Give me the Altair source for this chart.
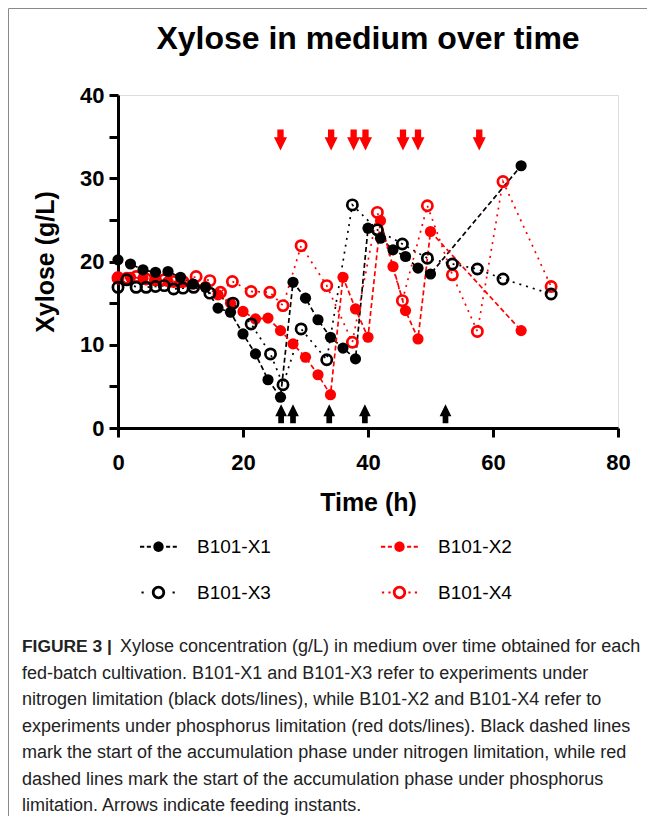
import altair as alt
import pandas as pd

FONT = "Liberation Sans"

series_names = ["B101-X1", "B101-X2", "B101-X3", "B101-X4"]
series_colors = ["#000000", "#ff0000", "#000000", "#ff0000"]

x1_time = [0, 2, 4, 6, 8, 10, 12, 14, 16, 18, 20, 22, 24, 26, 28, 30, 32, 34, 36, 38, 40, 42, 44, 46, 48, 50, 64.5]
x1_xylose = [20.2, 19.7, 19.0, 18.7, 18.8, 18.1, 17.3, 16.9, 14.4, 13.9, 11.3, 8.9, 5.8, 3.7, 17.5, 15.6, 13.0, 10.9, 9.6, 8.3, 24.0, 22.8, 21.4, 20.6, 19.2, 18.5, 31.5]

x2_time = [0, 2, 4, 6, 8, 10, 12, 14, 16, 18, 20, 22, 24, 26, 28, 30, 32, 34, 36, 38, 40, 42, 44, 46, 48, 50, 64.5]
x2_xylose = [18.2, 18.1, 18.0, 17.8, 17.6, 17.5, 17.3, 17.0, 16.0, 15.0, 14.0, 13.1, 13.2, 11.7, 10.1, 8.5, 6.4, 4.0, 18.1, 14.3, 10.9, 24.9, 19.4, 14.1, 10.7, 23.6, 11.7]

x3_time = [0, 1.4, 2.9, 4.5, 6, 7.4, 8.9, 10.4, 12.1, 14.7, 18.4, 21.3, 24.4, 26.4, 29.3, 33.4, 37.5, 41.5, 45.5, 49.5, 53.5, 57.5, 61.6, 69.3]
x3_xylose = [16.9, 17.8, 16.9, 16.9, 17.0, 17.1, 16.7, 16.8, 16.9, 16.2, 15.0, 12.5, 8.9, 5.2, 11.9, 8.2, 26.8, 23.8, 22.1, 20.4, 19.7, 19.1, 17.9, 16.1]

x4_time = [0, 1.4, 2.9, 4.5, 6, 7.4, 8.9, 10.4, 12.5, 14.7, 16.4, 18.3, 21.3, 24.3, 26.4, 29.3, 33.4, 37.5, 41.5, 45.5, 49.5, 53.5, 57.5, 61.6, 69.3]
x4_xylose = [18.0, 18.0, 18.2, 17.9, 17.8, 17.8, 17.6, 17.6, 18.2, 17.7, 16.3, 17.6, 16.4, 16.3, 14.7, 21.9, 17.1, 10.3, 25.9, 15.3, 26.7, 18.4, 11.6, 29.6, 17.0]

red_arrow_time = [26.0, 34.1, 37.7, 39.6, 45.6, 48.0, 57.8]
black_arrow_time = [26.1, 28.0, 33.8, 39.5, 52.4]

title_text = "Xylose in medium over time"
x_title = "Time (h)"
y_title = "Xylose (g/L)"
caption_bold = "FIGURE 3 |"
caption_lines = [
    "Xylose concentration (g/L) in medium over time obtained for each",
    "fed-batch cultivation. B101-X1 and B101-X3 refer to experiments under",
    "nitrogen limitation (black dots/lines), while B101-X2 and B101-X4 refer to",
    "experiments under phosphorus limitation (red dots/lines). Black dashed lines",
    "mark the start of the accumulation phase under nitrogen limitation, while red",
    "dashed lines mark the start of the accumulation phase under phosphorus",
    "limitation. Arrows indicate feeding instants.",
]

rows = []
for name, ts, vs in zip(series_names, [x1_time, x2_time, x3_time, x4_time],
                        [x1_xylose, x2_xylose, x3_xylose, x4_xylose]):
    for i, (t, v) in enumerate(zip(ts, vs)):
        rows.append({"series": name, "time": t, "xylose": v, "order": i})
df = pd.DataFrame(rows)

red_arrows = pd.DataFrame({"time": red_arrow_time})
black_arrows = pd.DataFrame({"time": black_arrow_time})

# ---- shapes -----------------------------------------------------------
def rect(x0, x1, h):
    return f"M{x0},{-h}L{x1},{-h}L{x1},{h}L{x0},{h}Z"

def disk(r):
    return f"M{r},0A{r},{r} 0 1,1 {-r},0A{r},{r} 0 1,1 {r},0Z"

def ring(ro, ri):
    return (f"M{ro},0A{ro},{ro} 0 1,1 {-ro},0A{ro},{ro} 0 1,1 {ro},0Z"
            f"M{ri},0A{ri},{ri} 0 1,0 {-ri},0A{ri},{ri} 0 1,0 {ri},0Z")

dashes = (rect(-1, -0.77, 0.05) + rect(-0.63, -0.41, 0.05)
          + rect(0.41, 0.63, 0.05) + rect(0.77, 0.99, 0.05))
dots_a = rect(-0.92, -0.8, 0.06) + rect(0.76, 0.88, 0.06)
dots_b = (rect(-0.95, -0.83, 0.06) + rect(-0.6, -0.48, 0.06)
          + rect(0.48, 0.6, 0.06) + rect(0.83, 0.95, 0.06))
legend_paths = [
    dashes + disk(0.28),
    dashes + disk(0.28),
    dots_a + ring(0.36, 0.21),
    dots_b + ring(0.36, 0.21),
]
arrow_down = "M-0.3,-1L0.3,-1L0.3,-0.25L0.62,-0.25L0,1L-0.62,-0.25L-0.3,-0.25Z"
arrow_up = "M-0.3,1L0.3,1L0.3,0.25L0.62,0.25L0,-1L-0.62,0.25L-0.3,0.25Z"

# ---- scales / encodings ----------------------------------------------
cscale = alt.Scale(domain=series_names, range=series_colors)
dscale = alt.Scale(domain=series_names, range=[[5, 3], [5, 3], [2, 5], [2, 5]])

X = alt.X(
    "time:Q",
    scale=alt.Scale(domain=[0, 80], nice=False),
    axis=alt.Axis(values=[0, 20, 40, 60, 80], title=x_title, grid=False,
                  labelFlush=False,
                  domainColor="black", domainWidth=3, tickColor="black",
                  tickWidth=3, tickSize=9, labelFont=FONT, labelFontSize=22,
                  labelFontWeight="bold", labelColor="black", labelPadding=15,
                  titleFont=FONT, titleFontSize=25, titleFontWeight="bold",
                  titleColor="black", titlePadding=17),
)
Y = alt.Y(
    "xylose:Q",
    scale=alt.Scale(domain=[0, 40], nice=False),
    axis=alt.Axis(values=[0, 5, 10, 15, 20, 25, 30, 35, 40],
                  labelExpr="datum.value % 10 == 0 ? datum.label : ''",
                  labelFlush=False,
                  title=y_title, grid=False,
                  domainColor="black", domainWidth=3, tickColor="black",
                  tickWidth=3, tickSize=9, labelFont=FONT, labelFontSize=22,
                  labelFontWeight="bold", labelColor="black", labelPadding=5,
                  titleFont=FONT, titleFontSize=25, titleFontWeight="bold",
                  titleColor="black", titlePadding=21),
)

base = alt.Chart(df)

lines = base.mark_line(strokeWidth=1.7).encode(
    x=X, y=Y,
    color=alt.Color("series:N", scale=cscale, legend=None),
    strokeDash=alt.StrokeDash("series:N", scale=dscale, legend=None),
    order="order:Q",
)

def pts(name, filled):
    c = series_colors[series_names.index(name)]
    if filled:
        m = alt.Chart(df).mark_point(filled=True, size=125, opacity=1, shape="circle", color=c)
    else:
        m = alt.Chart(df).mark_point(filled=False, size=105, strokeWidth=2.7, opacity=1,
                                     shape="circle", color=c)
    return m.transform_filter(alt.datum.series == name).encode(x=X, y=Y)

point_layers = [pts("B101-X2", True), pts("B101-X4", False),
                pts("B101-X1", True), pts("B101-X3", False)]

leg = alt.Legend(
    orient="none", legendX=22, legendY=433, columns=2, direction="horizontal",
    title=None,
    labelFont=FONT, labelFontSize=19, labelColor="black", symbolSize=1369,
    labelOffset=20, columnPadding=110, rowPadding=17, symbolStrokeWidth=0,
    symbolOpacity=1,
)
legend_layer = alt.Chart(df).transform_filter("false").mark_point(
    filled=True, opacity=1
).encode(
    x=X, y=Y,
    color=alt.Color("series:N", scale=cscale, legend=leg),
    shape=alt.Shape("series:N", scale=alt.Scale(domain=series_names, range=legend_paths),
                    legend=leg),
)

red_arrow_layer = alt.Chart(red_arrows).mark_point(
    shape=arrow_down, filled=True, color="#ff0000", size=441, opacity=1
).encode(x=X, y=alt.YDatum(34.6))

black_arrow_layer = alt.Chart(black_arrows).mark_point(
    shape=arrow_up, filled=True, color="#000000", size=361, opacity=1
).encode(x=X, y=alt.YDatum(1.7))

one = alt.Data(values=[{}])
frame = alt.Chart(one).mark_rect(filled=False, stroke="#8a8a8a", strokeWidth=1).encode(
    x=alt.value(-109.5), x2=alt.value(700), y=alt.value(-86.5), y2=alt.value(900)
)

CAP_SIZE = 18.0
caption_layers = [
    alt.Chart(one).mark_text(align="left", baseline="middle", font=FONT, fontSize=17.4,
                             fontWeight="bold", color="#222222").encode(
        x=alt.value(-96), y=alt.value(552), text=alt.value(caption_bold))
]
for i, line in enumerate(caption_lines):
    caption_layers.append(
        alt.Chart(one).mark_text(align="left", baseline="middle", font=FONT, fontSize=CAP_SIZE,
                                 color="#222222").encode(
            x=alt.value(2 if i == 0 else -96), y=alt.value(552 + i * 26.5),
            text=alt.value(line))
    )

chart = alt.layer(
    frame, lines, *point_layers, red_arrow_layer, black_arrow_layer, legend_layer,
    *caption_layers,
).resolve_scale(
    color="independent", shape="independent", strokeDash="independent"
).properties(
    width=500, height=333,
    title=alt.Title(title_text, font=FONT, fontSize=32, fontWeight="bold",
                    color="black", offset=-73, anchor="middle", baseline="alphabetic"),
    padding={"left": 110, "top": 87, "right": 29, "bottom": 388},
    autosize=alt.AutoSizeParams(type="none"),
).configure_view(stroke=None).configure(background="white")

chart.save("out.html", embed_options={"renderer": "svg", "actions": False})
